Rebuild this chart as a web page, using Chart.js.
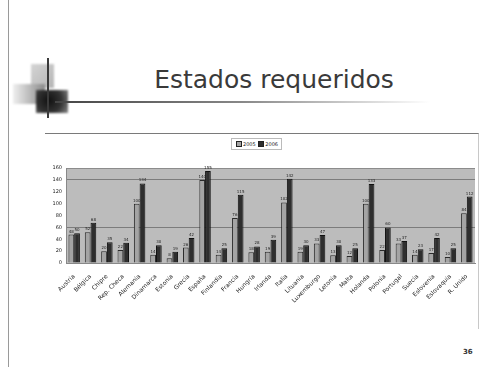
<!DOCTYPE html>
<html lang="es">
<head>
    <meta charset="UTF-8">
    <title>Estados requeridos</title>
    <script src="https://cdn.jsdelivr.net/npm/chart.js"></script>
    <style>
        html, body { margin: 0; padding: 0; background: #fff; }
        body { width: 487px; height: 367px; position: relative; overflow: hidden; font-family: "DejaVu Sans", sans-serif; }
        .edge-left { position: absolute; left: 8px; top: 0; width: 1px; height: 367px; background: #9a9a9a; }
        .title { position: absolute; left: 0; width: 548px; top: 65px; text-align: center; font-size: 25px; color: #3a3a3a; }
        .deco { position: absolute; }
        .frame { position: absolute; left: 45px; top: 133px; width: 433px; height: 195px; border-top: 1px solid #7a7a7a; border-right: 1px solid #c8c8c8; }
        .legend { position: absolute; left: 231px; top: 138px; height: 10px; padding: 0 3px; border: 1px solid #bbb; font-size: 5px; line-height: 10px; color: #222; background: #fff; white-space: nowrap; }
        .legend i { display: inline-block; width: 4px; height: 4px; margin: 0 1px 0 1px; vertical-align: -0.5px; border: 0.5px solid #222; }
        .chart { position: absolute; left: 40px; top: 133px; width: 440px; height: 200px; }
        .pageno { position: absolute; left: 463px; top: 348px; font-size: 7px; font-weight: bold; color: #333; }
    </style>
</head>
<body>
    <div class="edge-left"></div>

    <!-- logo squares next to the title -->
    <div class="deco" style="left:31px;top:64px;width:23px;height:24px;background:linear-gradient(135deg,#d4d4d4,#b5b5b5);filter:blur(1px);"></div>
    <div class="deco" style="left:13px;top:84px;width:32px;height:20px;background:linear-gradient(90deg,#efefef,#8a8a8a);filter:blur(1px);"></div>
    <div class="deco" style="left:36px;top:90px;width:32px;height:23px;background:radial-gradient(circle at 40% 45%,#111 0%,#333 55%,#888 100%);filter:blur(1.2px);"></div>
    <div class="deco" style="left:47px;top:58px;width:2px;height:60px;background:#3a3a3a;"></div>
    <div class="deco" style="left:55px;top:101px;width:375px;height:2px;background:linear-gradient(90deg,#444 0%,#888 50%,#fff 100%);"></div>

    <div class="title">Estados requeridos</div>

    <div class="frame"></div>
    <div class="chart"><canvas id="estadosChart" width="440" height="200"></canvas></div>
    <div class="legend"><i style="background:#a4a4a4"></i>2005 <i style="background:#2e2e2e"></i>2006</div>

    <div class="pageno">36</div>

    <script>
        const paises = ['Austria', 'Bélgica', 'Chipre', 'Rep. Checa', 'Alemania', 'Dinamarca', 'Estonia', 'Grecia',
            'España', 'Finlandia', 'Francia', 'Hungría', 'Irlanda', 'Italia', 'Lituania', 'Luxemburgo', 'Letonia',
            'Malta', 'Holanda', 'Polonia', 'Portugal', 'Suecia', 'Eslovenia', 'Eslovaquia', 'R. Unido'];
        const valores2005 = [48, 52, 20, 22, 100, 14, 8, 26, 140, 14, 76, 18, 19, 102, 19, 33, 13, 12, 100, 22, 33, 14, 17, 10, 84];
        const valores2006 = [50, 68, 35, 34, 134, 30, 19, 42, 155, 25, 115, 28, 39, 142, 30, 47, 30, 25, 133, 60, 37, 23, 42, 25, 112];
        const ejeY = [0, 20, 40, 60, 80, 100, 120, 140, 160];
        const lineasGuia = [60, 140];

        // gray plot area with a dark top edge
        const fondoGrafico = {
            id: 'fondoGrafico',
            beforeDraw(chart) {
                const { ctx, chartArea: a } = chart;
                ctx.save();
                ctx.fillStyle = '#bcbcbc';
                ctx.fillRect(a.left, a.top, a.right - a.left, a.bottom - a.top);
                ctx.strokeStyle = '#8c8c8c';
                ctx.lineWidth = 1;
                ctx.beginPath();
                ctx.moveTo(a.left, a.top + 0.5);
                ctx.lineTo(a.right, a.top + 0.5);
                ctx.stroke();
                ctx.restore();
            }
        };

        // value printed above every bar
        const etiquetas = {
            id: 'etiquetas',
            afterDatasetsDraw(chart) {
                const { ctx } = chart;
                ctx.save();
                ctx.font = '4px "DejaVu Sans"';
                ctx.fillStyle = '#222';
                ctx.textAlign = 'center';
                ctx.textBaseline = 'bottom';
                chart.data.datasets.forEach((ds, i) => {
                    chart.getDatasetMeta(i).data.forEach((bar, j) => {
                        ctx.fillText(ds.data[j], bar.x, bar.y - 1);
                    });
                });
                ctx.restore();
            }
        };

        new Chart(document.getElementById('estadosChart'), {
            type: 'bar',
            data: {
                labels: paises,
                datasets: [{
                    label: '2005',
                    data: valores2005,
                    backgroundColor: '#a4a4a4',
                    borderColor: '#2a2a2a',
                    borderWidth: 1,
                    barPercentage: 1,
                    categoryPercentage: 0.7
                }, {
                    label: '2006',
                    data: valores2006,
                    backgroundColor: '#2e2e2e',
                    borderColor: '#111',
                    borderWidth: 1,
                    barPercentage: 1,
                    categoryPercentage: 0.7
                }]
            },
            options: {
                responsive: false,
                animation: false,
                layout: { padding: { top: 35, right: 5, left: 0, bottom: 0 } },
                plugins: {
                    legend: { display: false },
                    tooltip: { enabled: false }
                },
                scales: {
                    x: {
                        grid: { display: false },
                        border: { color: '#888' },
                        ticks: {
                            color: '#222',
                            font: { family: 'DejaVu Sans', size: 6 },
                            minRotation: 45,
                            maxRotation: 45,
                            autoSkip: false,
                            padding: 2
                        },
                        afterFit(scale) { scale.height = 70; }
                    },
                    y: {
                        min: 0,
                        max: 160,
                        afterBuildTicks(scale) { scale.ticks = ejeY.map(v => ({ value: v })); },
                        grid: {
                            color: ctx => lineasGuia.includes(ctx.tick.value) ? '#7c7c7c' : 'rgba(0,0,0,0)',
                            drawTicks: false
                        },
                        border: { color: '#888' },
                        ticks: {
                            color: '#222',
                            font: { family: 'DejaVu Sans', size: 5 },
                            padding: 4
                        },
                        afterFit(scale) { scale.width = 26; }
                    }
                }
            },
            plugins: [fondoGrafico, etiquetas]
        });
    </script>
</body>
</html>
